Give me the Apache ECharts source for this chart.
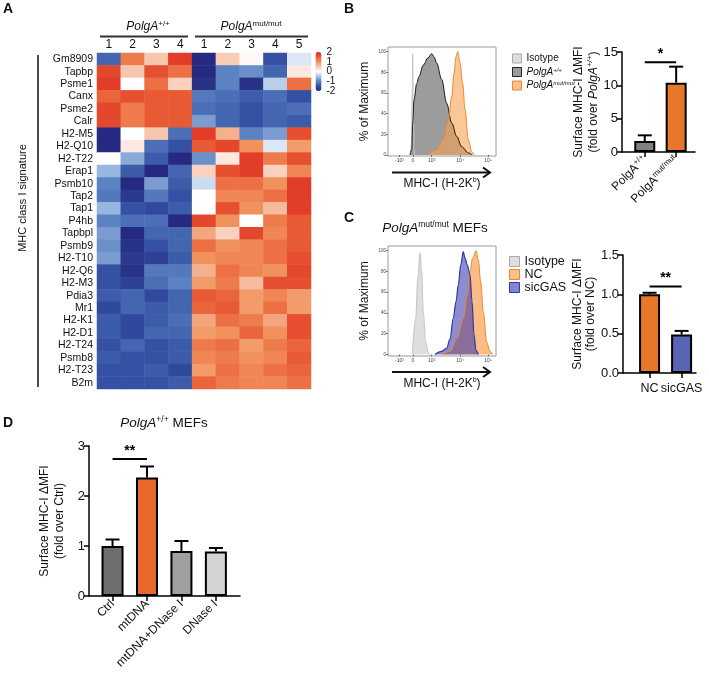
<!DOCTYPE html>
<html lang="en">
<head>
    <meta charset="UTF-8">
    <title>MHC-I signature and surface MHC-I</title>
    <script src="https://cdn.jsdelivr.net/npm/echarts@6/dist/echarts.min.js"></script>
    <style>
        html, body { margin: 0; padding: 0; background: #fff; }
        #main { width: 709px; height: 674px; }
    </style>
</head>
<body>
<div id="main"></div>
<script>
    // ---------- panel A : heatmap ----------
    var genes = ['Gm8909', 'Tapbp', 'Psme1', 'Canx', 'Psme2', 'Calr', 'H2-M5', 'H2-Q10', 'H2-T22', 'Erap1',
        'Psmb10', 'Tap2', 'Tap1', 'P4hb', 'Tapbpl', 'Psmb9', 'H2-T10', 'H2-Q6', 'H2-M3', 'Pdia3', 'Mr1',
        'H2-K1', 'H2-D1', 'H2-T24', 'Psmb8', 'H2-T23', 'B2m'];
    var samples = ['wt1', 'wt2', 'wt3', 'wt4', 'mut1', 'mut2', 'mut3', 'mut4', 'mut5'];
    var sampleLabels = ['1', '2', '3', '4', '1', '2', '3', '4', '5'];
    var zScores = [
        [-1.3, 1.2, 0.5, 1.8, -2.0, 0.45, 0.05, -1.5, -0.2],
        [1.7, 0.5, 1.6, 1.3, -2.0, -1.0, -0.9, -1.3, 0.2],
        [1.8, 0.0, 1.3, 0.4, -1.9, -1.0, -1.9, -0.4, 1.3],
        [1.4, 1.6, 1.5, 1.5, -1.1, -1.2, -1.4, -1.2, -1.5],
        [1.7, 1.2, 1.5, 1.5, -1.2, -1.3, -1.5, -1.3, -1.2],
        [1.7, 1.2, 1.5, 1.5, -0.8, -1.3, -1.5, -1.3, -1.4],
        [-2.0, 0.0, 0.5, -1.2, 1.8, 0.7, -1.0, -0.8, 1.6],
        [-2.0, 0.2, -1.2, -1.5, 1.5, 1.7, 1.0, -0.2, 0.9],
        [0.0, -0.7, -1.4, -2.0, -0.9, 0.2, 1.8, 1.2, 1.6],
        [-0.6, -1.4, -2.0, -1.3, 0.4, 1.6, 1.8, 0.4, 1.1],
        [-1.0, -2.0, -0.8, -1.4, -0.3, 1.3, 1.3, 1.0, 1.8],
        [-1.1, -1.8, -1.1, -1.5, 0.0, 1.1, 1.1, 1.3, 1.8],
        [-0.6, -1.5, -1.6, -1.4, 0.0, 1.6, 1.0, 0.6, 1.8],
        [-1.0, -1.2, -1.2, -2.0, 1.7, 1.0, 0.0, 1.2, 1.5],
        [-0.8, -2.0, -1.3, -1.3, 0.8, 0.4, 1.7, 1.1, 1.5],
        [-0.9, -1.9, -1.5, -1.3, 1.3, 1.0, 1.1, 1.3, 1.5],
        [-0.8, -1.8, -1.7, -1.4, 1.0, 1.1, 1.1, 1.3, 1.6],
        [-1.5, -1.9, -1.1, -1.1, 0.7, 1.3, 1.1, 1.0, 1.7],
        [-1.5, -1.7, -1.2, -1.0, 0.9, 1.2, 0.6, 1.6, 1.6],
        [-1.4, -1.3, -1.6, -1.3, 1.5, 1.4, 0.9, 1.1, 0.9],
        [-1.6, -1.3, -1.4, -1.3, 1.4, 1.5, 0.9, 1.3, 0.9],
        [-1.4, -1.6, -1.4, -1.2, 0.8, 1.3, 1.2, 0.8, 1.6],
        [-1.4, -1.6, -1.3, -1.3, 0.9, 1.0, 1.4, 1.0, 1.6],
        [-1.5, -1.3, -1.5, -1.4, 1.2, 1.3, 0.9, 1.2, 1.4],
        [-1.4, -1.5, -1.5, -1.4, 1.1, 1.2, 1.0, 1.1, 1.5],
        [-1.5, -1.5, -1.4, -1.6, 0.9, 1.3, 1.1, 1.3, 1.4],
        [-1.5, -1.5, -1.5, -1.4, 1.4, 1.2, 1.1, 1.1, 1.3]
    ];
    var colorbarLabels = ['-2', '-1', '0', '1', '2'];

    // ---------- flow histograms (x = display channel, y = % of max) ----------
    var histTickPos = [11.5, 25, 43.7, 72, 100];
    var histTickText = ['-10³', '0', '10³', '10⁴', '10⁵'];
    var pctTicks = [0, 20, 40, 60, 80, 100];

    var isoB = [[22.3, 0], [23.3, 8], [24.2, 60], [24.7, 98], [25.3, 45], [26, 6], [26.6, 0]];
    var wtB = [[22, 0], [23.7, 5], [24.7, 30], [26, 53], [28.7, 69], [31, 76], [35.3, 87], [40, 94],
        [43.7, 98], [46, 95], [48.7, 89], [53.7, 73], [58.7, 50], [63.7, 31], [68.7, 18], [73.7, 8],
        [80.3, 2], [84, 0]];
    var mutB = [[40.3, 0], [48.7, 5], [55.3, 15], [60.3, 34], [63.7, 56], [66, 79], [68, 95], [69.7, 100],
        [72, 89], [74.7, 69], [77, 44], [80.3, 15], [83.7, 3], [86, 0]];

    var isoC = [[24.3, 0], [27.7, 35], [29.7, 73], [32, 98], [33.7, 80], [35.3, 41], [37.7, 12],
        [40.3, 2], [42, 0]];
    var ncC = [[53.7, 0], [62, 3], [68.7, 15], [75.3, 35], [79.3, 57], [82, 80], [84.7, 93], [88, 100],
        [90.3, 91], [92.7, 70], [95.3, 41], [98.7, 12], [102, 3], [104.7, 0]];
    var siC = [[47, 0], [53.7, 3], [58.7, 6], [62, 15], [65.3, 35], [68, 51], [70.3, 67], [72.7, 86],
        [75.3, 99], [77, 93], [79.3, 86], [82, 77], [84, 51], [86, 19], [88, 4], [90.3, 0]];

    // ---------- bar panels (mean and upper error) ----------
    var bGroups = ['{n|PolgA}{s|+/+}', '{n|PolgA}{s|mut/mut}'];
    var bMean = [1.65, 10.4];
    var bUpper = [2.5, 12.8];
    var bColors = ['#808080', '#e8762b'];

    var cGroups = ['NC', 'sicGAS'];
    var cMean = [1.0, 0.49];
    var cUpper = [1.02, 0.535];
    var cColors = ['#e8772a', '#5a64b4'];

    var dGroups = ['Ctrl', 'mtDNA', 'mtDNA+DNase I', 'DNase I'];
    var dMean = [1.0, 2.37, 0.9, 0.89];
    var dUpper = [1.13, 2.59, 1.1, 0.96];
    var dColors = ['#6e6e6e', '#e8672a', '#a0a0a0', '#d3d3d3'];

    // significance: [from group, to group, level]
    var bSig = [[1, 2, 13.45]];
    var cSig = [[1, 2, 1.1]];
    var dSig = [[1, 2, 2.74]];
    var bStars = ['*'], cStars = ['**'], dStars = ['**'];

    var FONT = 'Liberation Sans, Arial, sans-serif';
    var chart = echarts.init(document.getElementById('main'), null, {renderer: 'canvas'});

    var heatData = [];
    zScores.forEach(function (row, i) {
        row.forEach(function (v, j) {
            heatData.push([j, i, v]);
        });
    });

    var supRich = {
        n: {fontSize: 12, color: '#111', fontFamily: FONT, lineHeight: 14},
        i: {fontSize: 12, color: '#111', fontStyle: 'italic', fontFamily: FONT, lineHeight: 14},
        s: {fontSize: 8, color: '#111', verticalAlign: 'top', fontFamily: FONT, lineHeight: 9},
        si: {fontSize: 8, color: '#111', verticalAlign: 'top', fontStyle: 'italic', fontFamily: FONT, lineHeight: 9}
    };

    function barData(means, colors) {
        return means.map(function (m, i) {
            return {value: [i + 1, m], itemStyle: {color: colors[i]}};
        });
    }

    function errData(means, uppers) {
        return means.map(function (m, i) {
            return [i + 1, m, uppers[i]];
        });
    }

    function errorBar(params, api) {
        var base = api.coord([api.value(0), api.value(1)]);
        var top = api.coord([api.value(0), api.value(2)]);
        var hw = 7;
        return {
            type: 'group', children: [
                {type: 'line', shape: {x1: base[0], y1: base[1], x2: top[0], y2: top[1]}, style: {stroke: '#000', lineWidth: 2}},
                {type: 'line', shape: {x1: top[0] - hw, y1: top[1], x2: top[0] + hw, y2: top[1]}, style: {stroke: '#000', lineWidth: 2}}
            ]
        };
    }

    function sigRenderer(stars) {
        return function (params, api) {
            var a = api.coord([api.value(0), api.value(2)]);
            var b = api.coord([api.value(1), api.value(2)]);
            return {
                type: 'group', children: [
                    {type: 'line', shape: {x1: a[0], y1: a[1], x2: b[0], y2: b[1]}, style: {stroke: '#000', lineWidth: 2}},
                    {type: 'text', x: (a[0] + b[0]) / 2, y: a[1] - 1,
                        style: {text: stars[params.dataIndex], align: 'center', verticalAlign: 'bottom',
                            textAlign: 'center', textVerticalAlign: 'bottom',
                            font: 'bold 14px ' + FONT, fill: '#000'}}
                ]
            };
        };
    }

    function groupAxis(grid, names, min, max, label) {
        var pos = names.map(function (n, i) { return i + 1; });
        return {
            gridIndex: grid, type: 'value', min: min, max: max,
            splitLine: {show: false},
            axisLine: {show: true, onZero: false, lineStyle: {color: '#000', width: 1.5}},
            axisTick: {show: true, customValues: pos, length: 5, lineStyle: {color: '#000', width: 1.5}},
            axisLabel: Object.assign({
                customValues: pos,
                formatter: function (v) { return names[Math.round(v) - 1]; },
                color: '#111', fontSize: 12, fontFamily: FONT, margin: 5
            }, label)
        };
    }

    function valueAxis(grid, max, interval, name, nameGap, rich, fmt) {
        return {
            gridIndex: grid, type: 'value', min: 0, max: max, interval: interval,
            splitLine: {show: false},
            axisLine: {show: true, lineStyle: {color: '#000', width: 1.5}},
            axisTick: {show: true, length: 5, lineStyle: {color: '#000', width: 1.5}},
            axisLabel: {color: '#111', fontSize: 13, fontFamily: FONT, margin: 4, formatter: fmt},
            name: name, nameLocation: 'middle', nameGap: nameGap, nameRotate: 90,
            nameTextStyle: {rich: rich}
        };
    }

    function histX(grid, labelGap) {
        return {
            gridIndex: grid, type: 'value', min: 0, max: 108,
            splitLine: {show: false},
            axisLine: {show: false},
            axisTick: {show: true, customValues: histTickPos, length: 2, lineStyle: {color: '#555', width: 0.8}},
            axisLabel: {
                customValues: histTickPos, fontSize: 5, color: '#444', margin: 2, fontFamily: FONT,
                formatter: function (v) { return histTickText[histTickPos.indexOf(v)]; }
            },
            name: '{n|MHC-I (H-2K}{s|b}{n|)}', nameLocation: 'middle', nameGap: labelGap,
            nameTextStyle: {
                rich: {
                    n: {fontSize: 12, color: '#111', fontFamily: FONT, lineHeight: 14},
                    s: {fontSize: 7, color: '#111', verticalAlign: 'top', fontFamily: FONT, lineHeight: 8}
                }
            }
        };
    }

    function histY(grid, min) {
        return {
            gridIndex: grid, type: 'value', min: min, max: 104.5,
            splitLine: {show: false},
            axisLine: {show: false},
            axisTick: {show: true, customValues: pctTicks, length: 2, lineStyle: {color: '#555', width: 0.8}},
            axisLabel: {customValues: pctTicks, fontSize: 4.5, color: '#444', margin: 2, fontFamily: FONT},
            name: '% of Maximum', nameLocation: 'middle', nameGap: 17, nameRotate: 90,
            nameTextStyle: {fontSize: 12, color: '#111', fontFamily: FONT}
        };
    }

    function histSeries(name, axis, data, line, fill, width) {
        return {
            name: name, type: 'line', xAxisIndex: axis, yAxisIndex: axis, data: data,
            smooth: 0.35, smoothMonotone: 'x', symbol: 'none', silent: true,
            lineStyle: {color: line, width: width},
            areaStyle: {color: fill, opacity: 1},
            itemStyle: {color: fill, borderColor: line}
        };
    }

    function arrow(x1, x2, y) {
        return {
            type: 'group', children: [
                {type: 'line', shape: {x1: x1, y1: y, x2: x2, y2: y}, style: {stroke: '#111', lineWidth: 2}},
                {type: 'polyline', shape: {points: [[x2 - 7, y - 5], [x2, y], [x2 - 7, y + 5]]},
                    style: {stroke: '#111', lineWidth: 2, fill: null}}
            ]
        };
    }

    function label(text, x, y, font, extra) {
        var st = Object.assign({text: text, font: font, fill: '#111', align: 'center', verticalAlign: 'middle',
            textAlign: 'center', textVerticalAlign: 'middle'}, extra || {});
        return {type: 'text', x: x, y: y, style: st, silent: true};
    }

    var histLegendNames = {isoB: 'Isotype', wtB: '{i|PolgA}{s|+/+}', mutB: '{i|PolgA}{s|mut/mut}',
        isoC: 'Isotype', ncC: 'NC', siC: 'sicGAS'};

    var option = {
        animation: false,
        backgroundColor: '#fff',
        textStyle: {fontFamily: FONT},
        grid: [
            {left: 97, top: 53, width: 214, height: 336},                 // 0 heatmap
            {left: 315.5, top: 52, width: 6, height: 39},                  // 1 colorbar scale
            {left: 388, top: 47, width: 108, height: 109, show: true, borderColor: '#9a9a9a', borderWidth: 1}, // 2
            {left: 622, top: 52, width: 73, height: 100},                  // 3 B bars
            {left: 388, top: 246, width: 108, height: 110, show: true, borderColor: '#9a9a9a', borderWidth: 1}, // 4
            {left: 623, top: 255, width: 73, height: 118},                 // 5 C bars
            {left: 89, top: 446, width: 151, height: 150}                  // 6 D bars
        ],
        xAxis: [
            {
                gridIndex: 0, type: 'category', data: samples, position: 'top',
                axisLine: {show: false}, axisTick: {show: false}, splitLine: {show: false},
                axisLabel: {interval: 0, formatter: function (v, i) { return sampleLabels[i]; }, fontSize: 12, color: '#111', margin: 2}
            },
            {gridIndex: 1, type: 'value', show: false},
            histX(2, 21),
            groupAxis(3, bGroups, 0.275, 2.6, {rotate: 45, rich: supRich, margin: 6}),
            histX(4, 21),
            groupAxis(5, cGroups, 0.17, 2.45, {fontSize: 12.5, margin: 9}),
            groupAxis(6, dGroups, 0.317, 4.70, {rotate: 45, margin: 6})
        ],
        yAxis: [
            {
                gridIndex: 0, type: 'category', data: genes, inverse: true,
                axisLine: {show: false}, axisTick: {show: false}, splitLine: {show: false},
                axisLabel: {interval: 0, fontSize: 10.5, color: '#111', margin: 4}
            },
            {
                gridIndex: 1, type: 'category', data: colorbarLabels, boundaryGap: false, position: 'right',
                axisLine: {show: false}, axisTick: {show: false}, splitLine: {show: false},
                axisLabel: {interval: 0, fontSize: 10, color: '#111', margin: 5}
            },
            histY(2, -1),
            valueAxis(3, 15, 5, '{n|Surface MHC-I ΔMFI}\n{n|(fold over }{i|PolgA}{si|+/+}{n|)}', 17,
                {
                    n: {fontSize: 12, color: '#111', fontFamily: FONT, lineHeight: 15},
                    i: {fontSize: 12, color: '#111', fontStyle: 'italic', fontFamily: FONT, lineHeight: 15},
                    si: {fontSize: 8, color: '#111', fontStyle: 'italic', verticalAlign: 'top', fontFamily: FONT, lineHeight: 9}
                }),
            histY(4, -1.5),
            valueAxis(5, 1.5, 0.5, '{n|Surface MHC-I ΔMFI}\n{n|(fold over NC)}', 22,
                {n: {fontSize: 12, color: '#111', fontFamily: FONT, lineHeight: 13}},
                function (v) { return v.toFixed(1); }),
            valueAxis(6, 3, 1, '{n|Surface MHC-I ΔMFI}\n{n|(fold over Ctrl)}', 22,
                {n: {fontSize: 12, color: '#111', fontFamily: FONT, lineHeight: 15}})
        ],
        visualMap: {
            type: 'continuous', seriesIndex: 0, min: -2, max: 2, calculable: false,
            orient: 'vertical', left: 315.5, top: 52, itemWidth: 6, itemHeight: 39, padding: 0,
            inRange: {
                color: ['#252a80', '#3451a3', '#5b82c2', '#a8c4e5', '#ffffff',
                    '#f7c6ae', '#f1915c', '#e85a33', '#dc2a22']
            }
        },
        legend: [
            {
                left: 507, top: 48.5, orient: 'vertical', icon: 'rect', itemWidth: 9, itemHeight: 9, itemGap: 3.5,
                selectedMode: false,
                data: [
                    {name: 'isoB', itemStyle: {color: '#dedede', borderColor: '#a8a8a8', borderWidth: 1}},
                    {name: 'wtB', itemStyle: {color: '#9c9c9c', borderColor: '#222', borderWidth: 1}},
                    {name: 'mutB', itemStyle: {color: '#f9c08f', borderColor: '#f0862a', borderWidth: 1}}
                ],
                formatter: function (n) { return histLegendNames[n]; },
                textStyle: {
                    fontSize: 10, color: '#111',
                    rich: {
                        i: {fontSize: 10, fontStyle: 'italic', color: '#111'},
                        s: {fontSize: 6, fontStyle: 'italic', verticalAlign: 'top', color: '#111'}
                    }
                }
            },
            {
                left: 504, top: 250, orient: 'vertical', icon: 'rect', itemWidth: 10, itemHeight: 10, itemGap: 0,
                selectedMode: false,
                data: [
                    {name: 'isoC', itemStyle: {color: '#dedede', borderColor: '#a8a8a8', borderWidth: 1}},
                    {name: 'ncC', itemStyle: {color: '#f9c08f', borderColor: '#f0862a', borderWidth: 1}},
                    {name: 'siC', itemStyle: {color: '#8285d0', borderColor: '#2b3a9e', borderWidth: 1}}
                ],
                formatter: function (n) { return histLegendNames[n]; },
                textStyle: {fontSize: 12.5, color: '#111'}
            }
        ],
        series: [
            {
                type: 'heatmap', xAxisIndex: 0, yAxisIndex: 0, data: heatData, silent: true,
                itemStyle: {borderWidth: 0}, emphasis: {disabled: true}
            },
            histSeries('isoB', 2, isoB, '#c4c4c4', '#dcdcdc', 1),
            histSeries('wtB', 2, wtB, '#1a1a1a', '#9c9c9c', 1),
            histSeries('mutB', 2, mutB, '#f0862a', 'rgba(247,163,80,0.6)', 1),
            histSeries('isoC', 4, isoC, '#c4c4c4', '#dedede', 1),
            histSeries('ncC', 4, ncC, '#f0862a', 'rgba(250,178,112,0.85)', 1),
            histSeries('siC', 4, siC, '#2b3a9e', 'rgba(46,46,173,0.55)', 1.2),

            {type: 'bar', xAxisIndex: 3, yAxisIndex: 3, barWidth: 21, data: barData(bMean, bColors),
                itemStyle: {borderColor: '#000', borderWidth: 2}, silent: true},
            {type: 'custom', xAxisIndex: 3, yAxisIndex: 3, data: errData(bMean, bUpper), renderItem: errorBar, silent: true},
            {type: 'custom', xAxisIndex: 3, yAxisIndex: 3, data: bSig, renderItem: sigRenderer(bStars), silent: true},

            {type: 'bar', xAxisIndex: 5, yAxisIndex: 5, barWidth: 21, data: barData(cMean, cColors),
                itemStyle: {borderColor: '#000', borderWidth: 2}, silent: true},
            {type: 'custom', xAxisIndex: 5, yAxisIndex: 5, data: errData(cMean, cUpper), renderItem: errorBar, silent: true},
            {type: 'custom', xAxisIndex: 5, yAxisIndex: 5, data: cSig, renderItem: sigRenderer(cStars), silent: true},

            {type: 'bar', xAxisIndex: 6, yAxisIndex: 6, barWidth: 22, data: barData(dMean, dColors),
                itemStyle: {borderColor: '#000', borderWidth: 2}, silent: true},
            {type: 'custom', xAxisIndex: 6, yAxisIndex: 6, data: errData(dMean, dUpper), renderItem: errorBar, silent: true},
            {type: 'custom', xAxisIndex: 6, yAxisIndex: 6, data: dSig, renderItem: sigRenderer(dStars), silent: true}
        ],
        graphic: [
            // panel letters
            label('A', 8, 9, 'bold 14px ' + FONT),
            label('B', 349, 9, 'bold 14px ' + FONT),
            label('C', 349, 218, 'bold 14px ' + FONT),
            label('D', 8, 423, 'bold 14px ' + FONT),
            // heatmap group headers
            label('{i|PolgA}{s|+/+}', 148, 27, '12px ' + FONT, {rich: supRich}),
            label('{i|PolgA}{s|mut/mut}', 251, 27, '12px ' + FONT, {rich: supRich}),
            {type: 'line', shape: {x1: 100, y1: 36.5, x2: 188, y2: 36.5}, style: {stroke: '#333', lineWidth: 2}},
            {type: 'line', shape: {x1: 195, y1: 36.5, x2: 308, y2: 36.5}, style: {stroke: '#333', lineWidth: 2}},
            // row bracket and its label
            {type: 'line', shape: {x1: 38, y1: 55, x2: 38, y2: 387}, style: {stroke: '#111', lineWidth: 1.5}},
            {type: 'text', x: 22.5, y: 198, rotation: Math.PI / 2, silent: true,
                style: {text: 'MHC class I signature', font: '11px ' + FONT, fill: '#111',
                    align: 'center', verticalAlign: 'middle', textAlign: 'center', textVerticalAlign: 'middle'}},
            // histogram arrows
            arrow(392, 490, 172.5),
            arrow(392, 490, 372),
            // panel titles
            label('{i|PolgA}{s|mut/mut}{n| MEFs}', 435, 228, '13px ' + FONT, {
                rich: {
                    i: {fontSize: 13.5, fontStyle: 'italic', fill: '#111', lineHeight: 15},
                    n: {fontSize: 13.5, fill: '#111', lineHeight: 15},
                    s: {fontSize: 8.5, verticalAlign: 'top', fill: '#111', lineHeight: 9}
                }
            }),
            label('{i|PolgA}{s|+/+}{n| MEFs}', 164, 423, '13px ' + FONT, {
                rich: {
                    i: {fontSize: 13.5, fontStyle: 'italic', fill: '#111', lineHeight: 15},
                    n: {fontSize: 13.5, fill: '#111', lineHeight: 15},
                    s: {fontSize: 8.5, verticalAlign: 'top', fill: '#111', lineHeight: 9}
                }
            })
        ]
    };

    chart.setOption(option);

    window.onresize = function () {
        chart.resize();
    };
</script>
</body>
</html>
